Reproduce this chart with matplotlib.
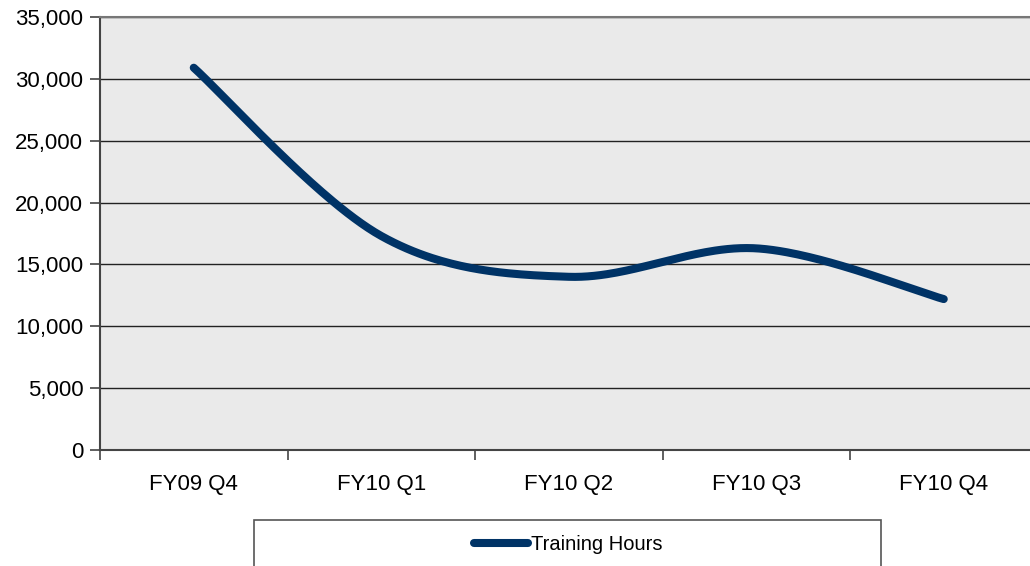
import numpy as np
import matplotlib
matplotlib.use("Agg")
import matplotlib.pyplot as plt
from matplotlib.patches import Rectangle

categories = ["FY09 Q4", "FY10 Q1", "FY10 Q2", "FY10 Q3", "FY10 Q4"]
training_hours = [30900, 17300, 14000, 16300, 12200]
y_ticks = [0, 5000, 10000, 15000, 20000, 25000, 30000, 35000]
series_name = "Training Hours"

plt.rcParams['font.family'] = ['Liberation Sans', 'DejaVu Sans']

W, H = 1030, 566
fig = plt.figure(figsize=(W / 100, H / 100), dpi=100)
ax = fig.add_axes([100 / W, (H - 450) / H, 937.5 / W, 433 / H])
ax.set_facecolor('#EAEAEA')


def catmull_rom(xs, ys, n=60):
    xs = np.asarray(xs, float)
    ys = np.asarray(ys, float)
    px = np.concatenate([[xs[0]], xs, [xs[-1]]])
    py = np.concatenate([[ys[0]], ys, [ys[-1]]])
    outx, outy = [], []
    for i in range(1, len(px) - 2):
        t = np.linspace(0, 1, n)
        p0x, p1x, p2x, p3x = px[i - 1:i + 3]
        p0y, p1y, p2y, p3y = py[i - 1:i + 3]
        c1x = p1x + (p2x - p0x) / 6
        c1y = p1y + (p2y - p0y) / 6
        c2x = p2x - (p3x - p1x) / 6
        c2y = p2y - (p3y - p1y) / 6
        bx = (1 - t) ** 3 * p1x + 3 * (1 - t) ** 2 * t * c1x + 3 * (1 - t) * t ** 2 * c2x + t ** 3 * p2x
        by = (1 - t) ** 3 * p1y + 3 * (1 - t) ** 2 * t * c1y + 3 * (1 - t) * t ** 2 * c2y + t ** 3 * p2y
        outx.append(bx)
        outy.append(by)
    return np.concatenate(outx), np.concatenate(outy)


x_idx = np.arange(len(categories))
sx, sy = catmull_rom(x_idx, training_hours)
line_color = '#003366'
ax.plot(sx, sy, color=line_color, lw=5.8, solid_capstyle='round', zorder=3,
        label=series_name)

ax.set_xlim(-0.5, len(categories) - 0.5)
ax.set_ylim(0, 35000)
ax.set_yticks(y_ticks)
ax.set_yticklabels([f"{v:,}" for v in y_ticks])
ax.set_xticks(x_idx)
ax.set_xticklabels(categories)
ax.set_xticks(np.arange(len(categories) + 1) - 0.5, minor=True)

ax.grid(axis='y', color='#222222', lw=1.0, zorder=1)
ax.tick_params(axis='x', which='major', length=0, pad=17, labelsize=16)
ax.tick_params(axis='x', which='minor', length=7, width=1.2, color='#444444')
ax.tick_params(axis='y', length=7, width=1.2, color='#444444', pad=5, labelsize=16)

for s in ['left', 'bottom']:
    ax.spines[s].set_color('#444444')
    ax.spines[s].set_linewidth(1.5)
ax.spines['top'].set_color('#777777')
ax.spines['top'].set_linewidth(1.5)
ax.spines['right'].set_visible(False)

# legend box
fig.patches.append(Rectangle((254 / W, -0.05), (881 - 254) / W, 0.05 + (H - 520) / H,
                             transform=fig.transFigure, facecolor='white',
                             edgecolor='#555555', lw=1.2))
handles, labels = ax.get_legend_handles_labels()
leg = fig.legend(handles, labels, loc='center', bbox_to_anchor=(568 / W, (H - 545) / H),
                 frameon=False, handlelength=2.7, handletextpad=0.12,
                 prop={'family': ['Liberation Sans'], 'size': 14.5})

fig.savefig('out.png', dpi=100)
